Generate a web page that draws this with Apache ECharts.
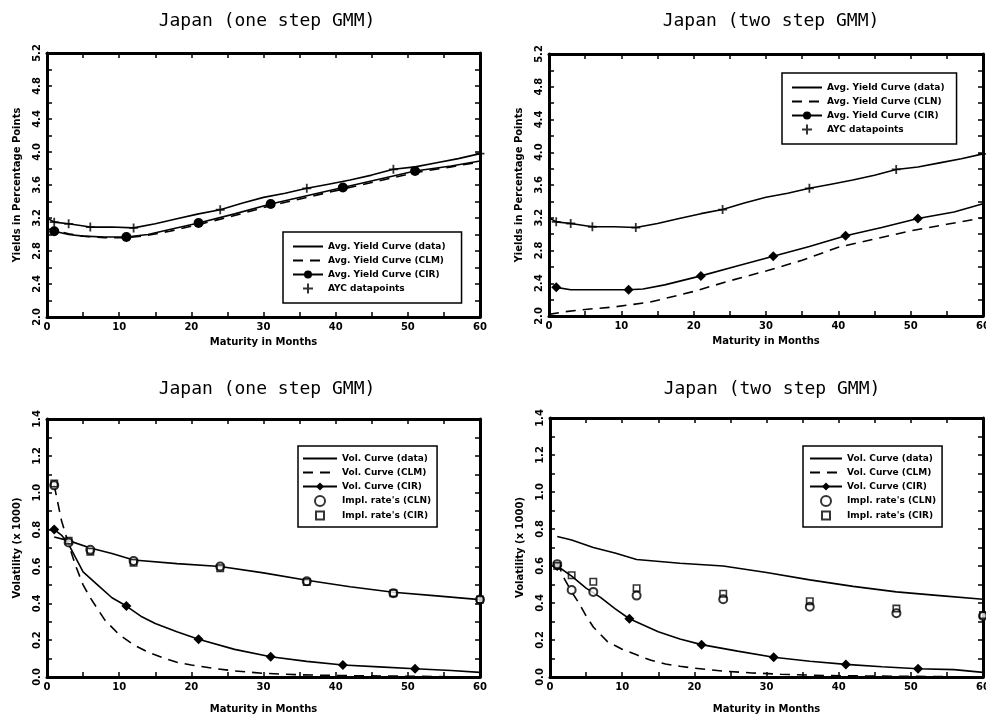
<!DOCTYPE html>
<html>
<head>
<meta charset="utf-8">
<title>Japan GMM yield and volatility curves</title>
<script src="https://cdn.jsdelivr.net/npm/echarts@6/dist/echarts.min.js"></script>
<style>
html, body { margin: 0; padding: 0; background: #fff; }
#chart { width: 986px; height: 720px; }
</style>
</head>
<body>
<div id="chart"></div>
<script>
// ---- data (months, values) ----
var titles = ['Japan (one step GMM)', 'Japan (two step GMM)', 'Japan (one step GMM)', 'Japan (two step GMM)'];

// average yield curve, data (same in both top panels)
var ycDataMonths = [0, 1, 3, 6, 9, 12, 15, 18, 21, 24, 27, 30, 33, 36, 39, 42, 45, 48, 51, 54, 57, 60];
var ycDataValues = [3.20, 3.15, 3.13, 3.09, 3.09, 3.08, 3.13, 3.19, 3.25, 3.30, 3.38, 3.45, 3.50, 3.56, 3.61, 3.66, 3.72, 3.79, 3.82, 3.87, 3.92, 3.98];
var aycMonths = [1, 3, 6, 12, 24, 36, 48, 60];
var aycValues = [3.15, 3.13, 3.09, 3.08, 3.30, 3.56, 3.79, 3.98];

// one step GMM yields
var yc1ClmMonths = [0, 1, 3, 5, 8, 11, 14, 17, 21, 26, 31, 36, 41, 46, 51, 56, 60];
var yc1ClmValues = [3.07, 3.05, 3.01, 2.98, 2.96, 2.96, 2.99, 3.04, 3.12, 3.23, 3.35, 3.45, 3.55, 3.65, 3.75, 3.82, 3.88];
var yc1CirMonths = [1, 3, 5, 8, 11, 14, 17, 21, 26, 31, 36, 41, 46, 51, 56, 60];
var yc1CirValues = [3.04, 3.00, 2.98, 2.97, 2.97, 3.00, 3.06, 3.14, 3.25, 3.37, 3.47, 3.57, 3.67, 3.77, 3.83, 3.89];

// two step GMM yields
var yc2ClnMonths = [0, 2, 5, 9, 14, 20, 25, 30, 35, 40, 45, 50, 55, 60];
var yc2ClnValues = [2.02, 2.05, 2.08, 2.11, 2.17, 2.30, 2.43, 2.55, 2.68, 2.84, 2.94, 3.04, 3.12, 3.20];
var yc2CirMonths = [1, 3, 6, 11, 13, 16, 21, 26, 31, 36, 41, 46, 51, 56, 60];
var yc2CirValues = [2.35, 2.32, 2.32, 2.32, 2.33, 2.38, 2.49, 2.61, 2.73, 2.85, 2.98, 3.08, 3.19, 3.27, 3.37];

// volatility curve, data (same in both bottom panels)
var volDataMonths = [1, 3, 6, 9, 12, 18, 24, 30, 36, 42, 48, 54, 60];
var volDataValues = [0.76, 0.74, 0.70, 0.67, 0.635, 0.615, 0.60, 0.565, 0.525, 0.49, 0.46, 0.44, 0.42];

// one step GMM volatility
var vol1ClmMonths = [1, 2, 3, 4, 5, 6, 8, 10, 12, 14, 16, 18, 20, 23, 26, 30, 35, 40, 50, 60];
var vol1ClmValues = [1.04, 0.85, 0.72, 0.60, 0.50, 0.43, 0.31, 0.23, 0.175, 0.135, 0.105, 0.08, 0.065, 0.047, 0.033, 0.02, 0.012, 0.008, 0.004, 0.0];
var vol1CirMonths = [1, 2, 3, 5, 7, 9, 11, 13, 15, 18, 21, 26, 31, 36, 41, 46, 51, 56, 60];
var vol1CirValues = [0.80, 0.77, 0.72, 0.57, 0.50, 0.43, 0.385, 0.33, 0.29, 0.245, 0.205, 0.15, 0.11, 0.085, 0.065, 0.055, 0.045, 0.035, 0.025];
var implMonths = [1, 3, 6, 12, 24, 36, 48, 60];
var impl1ClnValues = [1.04, 0.73, 0.69, 0.63, 0.60, 0.52, 0.455, 0.42];
var impl1CirValues = [1.05, 0.74, 0.68, 0.62, 0.59, 0.515, 0.455, 0.42];

// two step GMM volatility
var vol2ClmMonths = [1, 2, 3, 4, 5, 6, 8, 10, 12, 14, 16, 18, 20, 24, 28, 32, 38, 45, 52, 60];
var vol2ClmValues = [0.62, 0.53, 0.46, 0.40, 0.33, 0.27, 0.19, 0.15, 0.12, 0.09, 0.07, 0.058, 0.048, 0.032, 0.022, 0.015, 0.008, 0.005, 0.003, 0.0];
var vol2CirMonths = [1, 3, 5, 7, 9, 11, 13, 15, 18, 21, 26, 31, 36, 41, 46, 51, 56, 60];
var vol2CirValues = [0.60, 0.545, 0.48, 0.43, 0.37, 0.315, 0.28, 0.245, 0.205, 0.175, 0.14, 0.107, 0.085, 0.068, 0.055, 0.045, 0.04, 0.025];
var impl2ClnValues = [0.61, 0.47, 0.46, 0.44, 0.42, 0.38, 0.345, 0.33];
var impl2CirValues = [0.60, 0.55, 0.515, 0.48, 0.45, 0.41, 0.37, 0.335];

// maturities where the CIR curves carry a marker
var cirMarkMonths = [1, 11, 21, 31, 41, 51];

// ---- layout / styles ----
var grids = [
	{left: 47, top: 53, width: 433, height: 264},
	{left: 549, top: 54, width: 434, height: 262},
	{left: 47, top: 419, width: 433, height: 258},
	{left: 550, top: 418, width: 433, height: 259}
];
var titlePos = [[262, 7], [766, 7], [262, 375], [767, 375]];
var smallFont = {fontFamily: 'DejaVu Sans', fontWeight: 'bold', fontSize: 10, color: '#000'};
var plusPath = 'path://M4,0 H6 V4 H10 V6 H6 V10 H4 V6 H0 V4 H4 Z';
var hollowSquare = 'path://M0,0 H10 V10 H0 Z M2,2 V8 H8 V2 Z';

function pairs(xs, ys) {
	var out = [];
	for (var i = 0; i < xs.length; i++) out.push([xs[i], ys[i]]);
	return out;
}

function axisLine() {
	return {show: true, onZero: false, lineStyle: {color: '#000', width: 3}};
}
function ticks() {
	return {show: true, inside: true, length: 5, lineStyle: {color: '#000', width: 1.5}};
}
function minor() {
	return {show: true, splitNumber: 2, length: 5, lineStyle: {color: '#000', width: 1.5}};
}

var xAxes = [], yAxes = [];
for (var g = 0; g < 4; g++) {
	var isTop = g < 2;
	xAxes.push({
		type: 'value', gridIndex: g, position: 'bottom', min: 0, max: 60, interval: 10,
		name: 'Maturity in Months', nameLocation: 'middle', nameGap: isTop ? 20 : 27,
		nameTextStyle: smallFont,
		axisLine: axisLine(), axisTick: ticks(), minorTick: minor(),
		axisLabel: Object.assign({margin: 5}, smallFont),
		splitLine: {show: false}
	});
	xAxes.push({
		type: 'value', gridIndex: g, position: 'top', min: 0, max: 60, interval: 10,
		axisLine: axisLine(), axisTick: ticks(), minorTick: minor(),
		axisLabel: {show: false}, splitLine: {show: false}
	});
	var ymin = isTop ? 2.0 : 0.0, ymax = isTop ? 5.2 : 1.4, yint = isTop ? 0.4 : 0.2;
	yAxes.push({
		type: 'value', gridIndex: g, position: 'left', min: ymin, max: ymax, interval: yint,
		name: isTop ? 'Yields in Percentage Points' : 'Volatility (x 1000)',
		nameLocation: 'middle', nameGap: 25, nameTextStyle: smallFont,
		axisLine: axisLine(), axisTick: ticks(), minorTick: minor(),
		axisLabel: Object.assign({margin: 5, rotate: 90, formatter: function (v) { return v.toFixed(1); }}, smallFont),
		splitLine: {show: false}
	});
	yAxes.push({
		type: 'value', gridIndex: g, position: 'right', min: ymin, max: ymax, interval: yint,
		axisLine: axisLine(), axisTick: ticks(), minorTick: minor(),
		axisLabel: {show: false}, splitLine: {show: false}
	});
}

function line(name, g, xs, ys, dashed) {
	return {
		name: name, type: 'line', xAxisIndex: 2 * g, yAxisIndex: 2 * g,
		data: pairs(xs, ys), symbol: 'none', smooth: false,
		lineStyle: {color: '#000', width: 1.6, type: dashed ? [10, 7] : 'solid'},
		itemStyle: {color: '#000'}
	};
}
function cirLine(name, g, xs, ys, shape) {
	var s = line(name, g, xs, ys, false);
	s.symbol = shape;
	s.showSymbol = true;
	s.showAllSymbol = true;
	s.symbolSize = function (v) { return cirMarkMonths.indexOf(v[0]) >= 0 ? 10 : 0; };
	return s;
}
// empty* symbols take their outline from the colour, with a white fill
function dots(name, g, xs, ys, shape, size) {
	return {
		name: name, type: 'scatter', xAxisIndex: 2 * g, yAxisIndex: 2 * g, z: 3,
		data: pairs(xs, ys), symbol: shape, symbolSize: size,
		itemStyle: {color: '#000', borderWidth: shape.indexOf('empty') === 0 ? 1.6 : 0}
	};
}

var series = [
	line('Avg. Yield Curve (CLM)', 0, yc1ClmMonths, yc1ClmValues, true),
	cirLine('Avg. Yield Curve (CIR)', 0, yc1CirMonths, yc1CirValues, 'circle'),
	line('Avg. Yield Curve (data)', 0, ycDataMonths, ycDataValues, false),
	dots('AYC datapoints', 0, aycMonths, aycValues, plusPath, 9),

	line('Avg. Yield Curve (CLN)', 1, yc2ClnMonths, yc2ClnValues, true),
	cirLine('Avg. Yield Curve (CIR)', 1, yc2CirMonths, yc2CirValues, 'diamond'),
	line('Avg. Yield Curve (data)', 1, ycDataMonths, ycDataValues, false),
	dots('AYC datapoints', 1, aycMonths, aycValues, plusPath, 9),

	line('Vol. Curve (CLM)', 2, vol1ClmMonths, vol1ClmValues, true),
	cirLine('Vol. Curve (CIR)', 2, vol1CirMonths, vol1CirValues, 'diamond'),
	line('Vol. Curve (data)', 2, volDataMonths, volDataValues, false),
	dots("Impl. rate's (CLN)", 2, implMonths, impl1ClnValues, 'emptyCircle', 8),
	dots("Impl. rate's (CIR)", 2, implMonths, impl1CirValues, hollowSquare, 8),

	line('Vol. Curve (CLM)', 3, vol2ClmMonths, vol2ClmValues, true),
	cirLine('Vol. Curve (CIR)', 3, vol2CirMonths, vol2CirValues, 'diamond'),
	line('Vol. Curve (data)', 3, volDataMonths, volDataValues, false),
	dots("Impl. rate's (CLN)", 3, implMonths, impl2ClnValues, 'emptyCircle', 8),
	dots("Impl. rate's (CIR)", 3, implMonths, impl2CirValues, hollowSquare, 8)
];

// legend entries of plain lines: hide the symbol ECharts draws on the line icon
var hideMark = {color: 'rgba(0,0,0,0)', borderColor: 'rgba(0,0,0,0)', borderWidth: 0};
function plain(name) { return {name: name, itemStyle: hideMark}; }

function legend(left, topPx, names, padding, iconW) {
	return {
		left: left, top: topPx, orient: 'vertical', data: names, selectedMode: false,
		padding: padding, itemWidth: iconW, itemHeight: 10, itemGap: 3,
		borderColor: '#000', borderWidth: 1.5, backgroundColor: '#fff',
		textStyle: {fontFamily: 'DejaVu Sans', fontWeight: 'bold', fontSize: 9, color: '#000', lineHeight: 11}
	};
}
var volNames = [plain('Vol. Curve (data)'), plain('Vol. Curve (CLM)'), 'Vol. Curve (CIR)', "Impl. rate's (CLN)", "Impl. rate's (CIR)"];

var option = {
	animation: false,
	backgroundColor: '#fff',
	title: titles.map(function (t, i) {
		return {
			text: t, left: titlePos[i][0], top: titlePos[i][1], textAlign: 'center',
			textStyle: {fontFamily: 'DejaVu Sans Mono', fontWeight: 'normal', fontSize: 18, color: '#000'}
		};
	}),
	grid: grids.map(function (gr) {
		return Object.assign({outerBoundsMode: 'none', containLabel: false}, gr);
	}),
	xAxis: xAxes,
	yAxis: yAxes,
	legend: [
		legend(283, 232, [plain('Avg. Yield Curve (data)'), plain('Avg. Yield Curve (CLM)'), 'Avg. Yield Curve (CIR)', 'AYC datapoints'], [9, 16, 9, 9], 30),
		legend(782, 73, [plain('Avg. Yield Curve (data)'), plain('Avg. Yield Curve (CLN)'), 'Avg. Yield Curve (CIR)', 'AYC datapoints'], [9, 12, 9, 9], 30),
		legend(298, 446, volNames, [7, 6, 6, 4], 34),
		legend(803, 446, volNames, [7, 6, 6, 6], 32)
	],
	series: series
};

var chart = echarts.init(document.getElementById('chart'));
chart.setOption(option);
</script>
</body>
</html>
